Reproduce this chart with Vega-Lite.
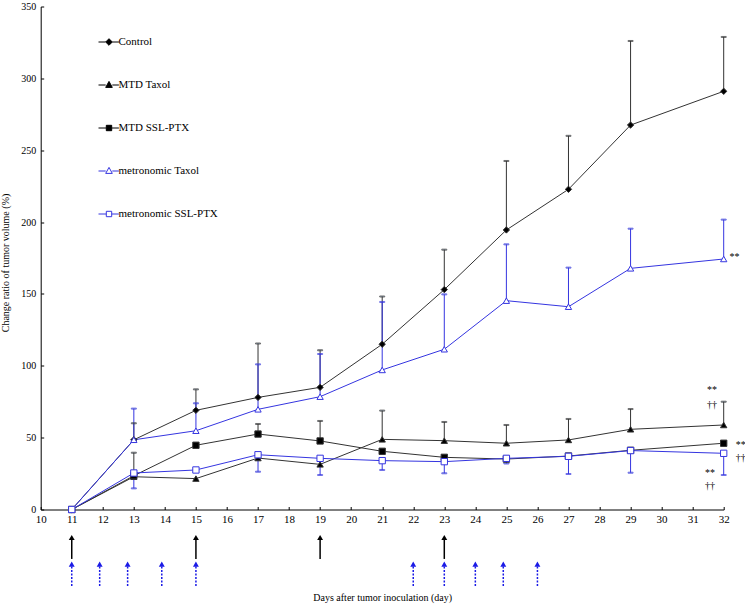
{
  "$schema": "https://vega.github.io/schema/vega-lite/v6.json",
  "autosize": {"type": "none"},
  "padding": {"left": 40.7, "top": 6.5, "right": 21.8, "bottom": 101.5},
  "width": 683,
  "height": 503,
  "background": "white",
  "config": {
    "view": {"stroke": null},
    "font": "Liberation Serif",
    "axis": {
      "grid": false,
      "domainColor": "black",
      "tickColor": "black",
      "labelColor": "black",
      "titleColor": "black",
      "labelFont": "Liberation Serif",
      "titleFont": "Liberation Serif",
      "labelFontSize": 10,
      "titleFontSize": 10,
      "titleFontWeight": "normal",
      "domainWidth": 1,
      "tickWidth": 1
    },
    "legend": {
      "labelFont": "Liberation Serif",
      "labelFontSize": 11,
      "labelColor": "black"
    }
  },
  "datasets": {
    "groups": [
      {"series": "Control", "day": 11, "value": 0, "lo": 0, "hi": 0},
      {"series": "Control", "day": 13, "value": 48.5, "lo": 48.5, "hi": 60},
      {"series": "Control", "day": 15, "value": 69, "lo": 69, "hi": 83.6},
      {"series": "Control", "day": 17, "value": 78, "lo": 78, "hi": 115.5},
      {"series": "Control", "day": 19, "value": 85, "lo": 85, "hi": 110.8},
      {"series": "Control", "day": 21, "value": 115, "lo": 115, "hi": 148.2},
      {"series": "Control", "day": 23, "value": 153, "lo": 153, "hi": 180.8},
      {"series": "Control", "day": 25, "value": 194.5, "lo": 194.5, "hi": 242.5},
      {"series": "Control", "day": 27, "value": 222.8, "lo": 222.8, "hi": 260},
      {"series": "Control", "day": 29, "value": 267.5, "lo": 267.5, "hi": 326},
      {"series": "Control", "day": 32, "value": 291, "lo": 291, "hi": 328.8},
      {"series": "MTD Taxol", "day": 11, "value": 0, "lo": 0, "hi": 0},
      {"series": "MTD Taxol", "day": 13, "value": 22.8, "lo": 22.8, "hi": 22.8},
      {"series": "MTD Taxol", "day": 15, "value": 21.5, "lo": 21.5, "hi": 21.5},
      {"series": "MTD Taxol", "day": 17, "value": 35.8, "lo": 35.8, "hi": 35.8},
      {"series": "MTD Taxol", "day": 19, "value": 31.4, "lo": 31.4, "hi": 31.4},
      {"series": "MTD Taxol", "day": 21, "value": 48.8, "lo": 48.8, "hi": 68.8},
      {"series": "MTD Taxol", "day": 23, "value": 47.9, "lo": 47.9, "hi": 60.9},
      {"series": "MTD Taxol", "day": 25, "value": 46.1, "lo": 46.1, "hi": 58.8},
      {"series": "MTD Taxol", "day": 27, "value": 48.4, "lo": 48.4, "hi": 63},
      {"series": "MTD Taxol", "day": 29, "value": 55.8, "lo": 55.8, "hi": 69.9},
      {"series": "MTD Taxol", "day": 32, "value": 58.8, "lo": 58.8, "hi": 75},
      {"series": "MTD SSL-PTX", "day": 11, "value": 0, "lo": 0, "hi": 0},
      {"series": "MTD SSL-PTX", "day": 13, "value": 23.5, "lo": 23.5, "hi": 39.5},
      {"series": "MTD SSL-PTX", "day": 15, "value": 44.7, "lo": 44.7, "hi": 44.7},
      {"series": "MTD SSL-PTX", "day": 17, "value": 52.5, "lo": 52.5, "hi": 59.5},
      {"series": "MTD SSL-PTX", "day": 19, "value": 47.7, "lo": 47.7, "hi": 61.6},
      {"series": "MTD SSL-PTX", "day": 21, "value": 40.5, "lo": 40.5, "hi": 40.5},
      {"series": "MTD SSL-PTX", "day": 23, "value": 36.3, "lo": 36.3, "hi": 36.3},
      {"series": "MTD SSL-PTX", "day": 25, "value": 35.1, "lo": 35.1, "hi": 35.1},
      {"series": "MTD SSL-PTX", "day": 27, "value": 37.2, "lo": 37.2, "hi": 37.2},
      {"series": "MTD SSL-PTX", "day": 29, "value": 41.2, "lo": 41.2, "hi": 41.2},
      {"series": "MTD SSL-PTX", "day": 32, "value": 46.1, "lo": 46.1, "hi": 46.1},
      {"series": "metronomic Taxol", "day": 11, "value": 0, "lo": 0, "hi": 0},
      {"series": "metronomic Taxol", "day": 13, "value": 48.5, "lo": 48.5, "hi": 70.2},
      {"series": "metronomic Taxol", "day": 15, "value": 54.8, "lo": 54.8, "hi": 73.9},
      {"series": "metronomic Taxol", "day": 17, "value": 69.7, "lo": 69.7, "hi": 101},
      {"series": "metronomic Taxol", "day": 19, "value": 78.5, "lo": 78.5, "hi": 108.2},
      {"series": "metronomic Taxol", "day": 21, "value": 97.1, "lo": 97.1, "hi": 144.4},
      {"series": "metronomic Taxol", "day": 23, "value": 111.5, "lo": 111.5, "hi": 149.7},
      {"series": "metronomic Taxol", "day": 25, "value": 145.3, "lo": 145.3, "hi": 184.5},
      {"series": "metronomic Taxol", "day": 27, "value": 141.1, "lo": 141.1, "hi": 168.3},
      {"series": "metronomic Taxol", "day": 29, "value": 167.8, "lo": 167.8, "hi": 195.4},
      {"series": "metronomic Taxol", "day": 32, "value": 174.3, "lo": 174.3, "hi": 201.7},
      {"series": "metronomic SSL-PTX", "day": 11, "value": 0, "lo": 0, "hi": 0},
      {"series": "metronomic SSL-PTX", "day": 13, "value": 25.4, "lo": 14.7, "hi": 25.4},
      {"series": "metronomic SSL-PTX", "day": 15, "value": 27.5, "lo": 27.5, "hi": 27.5},
      {"series": "metronomic SSL-PTX", "day": 17, "value": 38.1, "lo": 26.3, "hi": 38.1},
      {"series": "metronomic SSL-PTX", "day": 19, "value": 35.6, "lo": 24, "hi": 35.6},
      {"series": "metronomic SSL-PTX", "day": 21, "value": 34, "lo": 27.5, "hi": 34},
      {"series": "metronomic SSL-PTX", "day": 23, "value": 33.3, "lo": 25.2, "hi": 33.3},
      {"series": "metronomic SSL-PTX", "day": 25, "value": 35.6, "lo": 32, "hi": 35.6},
      {"series": "metronomic SSL-PTX", "day": 27, "value": 37, "lo": 24.7, "hi": 37},
      {"series": "metronomic SSL-PTX", "day": 29, "value": 41, "lo": 25.6, "hi": 41},
      {"series": "metronomic SSL-PTX", "day": 32, "value": 39.1, "lo": 24, "hi": 39.1}
    ],
    "doses": [
      {"day": 11, "regimen": "MTD"},
      {"day": 15, "regimen": "MTD"},
      {"day": 19, "regimen": "MTD"},
      {"day": 23, "regimen": "MTD"},
      {"day": 11, "regimen": "metronomic"},
      {"day": 11.9, "regimen": "metronomic"},
      {"day": 12.8, "regimen": "metronomic"},
      {"day": 13.9, "regimen": "metronomic"},
      {"day": 15, "regimen": "metronomic"},
      {"day": 22, "regimen": "metronomic"},
      {"day": 23, "regimen": "metronomic"},
      {"day": 24, "regimen": "metronomic"},
      {"day": 24.9, "regimen": "metronomic"},
      {"day": 26, "regimen": "metronomic"}
    ],
    "notes": [
      {"day": 32.35, "value": 176, "label": "**"},
      {"day": 31.62, "value": 83, "label": "**"},
      {"day": 31.62, "value": 73, "label": "††"},
      {"day": 32.55, "value": 45, "label": "**"},
      {"day": 32.55, "value": 36, "label": "††"},
      {"day": 31.56, "value": 25.5, "label": "**"},
      {"day": 31.56, "value": 16.5, "label": "††"}
    ]
  },
  "resolve": {"scale": {"shape": "independent", "fill": "independent", "color": "independent"}},
  "encoding": {
    "x": {
      "field": "day", "type": "quantitative",
      "title": "Days after tumor inoculation (day)",
      "scale": {"domain": [10, 32], "nice": false, "zero": false},
      "axis": {
        "title": "Days after tumor inoculation (day)",
        "values": [10,11,12,13,14,15,16,17,18,19,20,21,22,23,24,25,26,27,28,29,30,31,32],
        "format": "d",
        "tickSize": -3,
        "labelPadding": 7,
        "labelFontSize": 11,
        "labelFlush": false,
        "labelOverlap": false,
        "titleY": 87.5,
        "titleBaseline": "middle"
      }
    }
  },
  "layer": [
    {
      "data": {"name": "groups"},
      "mark": {"type": "line", "strokeWidth": 1},
      "encoding": {
        "y": {
          "field": "value", "type": "quantitative",
          "title": "Change ratio of tumor volume (%)",
          "scale": {"domain": [0, 350], "nice": false},
          "axis": {
            "title": "Change ratio of tumor volume (%)",
            "values": [0,50,100,150,200,250,300,350],
            "tickSize": -3,
            "labelPadding": 8,
            "labelFlush": false,
            "titleX": -35,
            "titleY": 256,
            "titleBaseline": "middle",
            "titleAngle": -90
          }
        },
        "stroke": {
          "field": "series", "type": "nominal",
          "scale": {
            "domain": ["Control", "MTD Taxol", "MTD SSL-PTX", "metronomic Taxol", "metronomic SSL-PTX"],
            "range": ["#333333", "#333333", "#333333", "#3535e0", "#3535e0"]
          },
          "legend": null
        },
        "detail": {"field": "series"}
      }
    },
    {
      "data": {"name": "groups"},
      "transform": [{"filter": "datum.hi > datum.lo"}],
      "mark": {"type": "rule", "strokeWidth": 1},
      "encoding": {
        "y": {"field": "lo", "type": "quantitative", "title": "Change ratio of tumor volume (%)"},
        "y2": {"field": "hi"},
        "stroke": {"field": "series", "type": "nominal", "legend": null}
      }
    },
    {
      "data": {"name": "groups"},
      "transform": [{"filter": "datum.hi > datum.value"}],
      "mark": {"type": "tick", "orient": "horizontal", "size": 5, "thickness": 1},
      "encoding": {
        "y": {"field": "hi", "type": "quantitative", "title": "Change ratio of tumor volume (%)"},
        "stroke": {"field": "series", "type": "nominal", "legend": null}
      }
    },
    {
      "data": {"name": "groups"},
      "transform": [{"filter": "datum.lo < datum.value"}],
      "mark": {"type": "tick", "orient": "horizontal", "size": 5, "thickness": 1},
      "encoding": {
        "y": {"field": "lo", "type": "quantitative", "title": "Change ratio of tumor volume (%)"},
        "stroke": {"field": "series", "type": "nominal", "legend": null}
      }
    },
    {
      "data": {"name": "groups"},
      "mark": {"type": "point", "size": 40, "strokeWidth": 1, "opacity": 1},
      "encoding": {
        "y": {"field": "value", "type": "quantitative", "title": "Change ratio of tumor volume (%)"},
        "shape": {
          "field": "series", "type": "nominal",
          "scale": {
            "domain": ["Control", "MTD Taxol", "MTD SSL-PTX", "metronomic Taxol", "metronomic SSL-PTX"],
            "range": ["diamond", "triangle-up", "square", "triangle-up", "square"]
          },
          "legend": null
        },
        "fill": {
          "field": "series", "type": "nominal",
          "scale": {
            "domain": ["Control", "MTD Taxol", "MTD SSL-PTX", "metronomic Taxol", "metronomic SSL-PTX"],
            "range": ["black", "black", "black", "white", "white"]
          },
          "legend": null
        },
        "stroke": {"field": "series", "type": "nominal", "legend": null}
      }
    },
    {
      "data": {"name": "groups"},
      "transform": [{"filter": "false"}],
      "mark": {"type": "point", "filled": false, "opacity": 1},
      "encoding": {
        "y": {"field": "value", "type": "quantitative", "title": "Change ratio of tumor volume (%)"},
        "color": {
          "field": "series", "type": "nominal", "title": null,
          "scale": {
            "domain": ["Control", "MTD Taxol", "MTD SSL-PTX", "metronomic Taxol", "metronomic SSL-PTX"],
            "range": ["black", "black", "black", "#3535e0", "#3535e0"]
          },
          "legend": {
            "orient": "none", "legendX": 62.8, "legendY": 30, "padding": 0, "rowPadding": 31,
            "symbolSize": 36, "symbolStrokeWidth": 1, "labelOffset": 4, "labelFontSize": 11, "title": null
          }
        },
        "fill": {
          "field": "series", "type": "nominal", "title": null,
          "scale": {
            "domain": ["Control", "MTD Taxol", "MTD SSL-PTX", "metronomic Taxol", "metronomic SSL-PTX"],
            "range": ["black", "black", "black", "white", "white"]
          },
          "legend": {
            "orient": "none", "legendX": 62.8, "legendY": 30, "padding": 0, "rowPadding": 31,
            "symbolSize": 36, "symbolStrokeWidth": 1, "labelOffset": 4, "labelFontSize": 11, "title": null
          }
        },
        "shape": {
          "field": "series", "type": "nominal", "title": null,
          "scale": {
            "domain": ["Control", "MTD Taxol", "MTD SSL-PTX", "metronomic Taxol", "metronomic SSL-PTX"],
            "range": [
              "M-3.5,0L-1.1,0M1.1,0L3.3,0M0,-1.1L1.1,0L0,1.1L-1.1,0Z",
              "M-3.5,0L-1.1,0M1.1,0L3.3,0M0,-1.2L1.1,0.8L-1.1,0.8Z",
              "M-3.5,0L-0.9,0M0.9,0L3.3,0M-0.9,-0.9L0.9,-0.9L0.9,0.9L-0.9,0.9Z",
              "M-3.5,0L-1.1,0M1.1,0L3.3,0M0,-1.2L1.1,0.8L-1.1,0.8Z",
              "M-3.5,0L-0.9,0M0.9,0L3.3,0M-0.9,-0.9L0.9,-0.9L0.9,0.9L-0.9,0.9Z"
            ]
          },
          "legend": {
            "orient": "none", "legendX": 62.8, "legendY": 30, "padding": 0, "rowPadding": 31,
            "symbolSize": 36, "symbolStrokeWidth": 1, "labelOffset": 4, "labelFontSize": 11, "title": null
          }
        }
      }
    },
    {
      "data": {"name": "doses"},
      "transform": [{"filter": "datum.regimen === 'MTD'"}],
      "mark": {"type": "rule", "strokeWidth": 1.5, "color": "black"},
      "encoding": {
        "y": {"datum": -34.4, "type": "quantitative", "title": "Change ratio of tumor volume (%)"},
        "y2": {"datum": -19.5}
      }
    },
    {
      "data": {"name": "doses"},
      "transform": [{"filter": "datum.regimen === 'MTD'"}],
      "mark": {"type": "point", "shape": "triangle-up", "filled": true, "size": 35, "color": "black", "opacity": 1},
      "encoding": {
        "y": {"datum": -19.5, "type": "quantitative", "title": "Change ratio of tumor volume (%)"}
      }
    },
    {
      "data": {"name": "doses"},
      "transform": [{"filter": "datum.regimen === 'metronomic'"}],
      "mark": {"type": "rule", "strokeWidth": 1.5, "color": "#1a1ae6", "strokeDash": [2, 1.5]},
      "encoding": {
        "y": {"datum": -53.2, "type": "quantitative", "title": "Change ratio of tumor volume (%)"},
        "y2": {"datum": -38}
      }
    },
    {
      "data": {"name": "doses"},
      "transform": [{"filter": "datum.regimen === 'metronomic'"}],
      "mark": {"type": "point", "shape": "triangle-up", "filled": true, "size": 35, "color": "#1a1ae6", "opacity": 1},
      "encoding": {
        "y": {"datum": -38, "type": "quantitative", "title": "Change ratio of tumor volume (%)"}
      }
    },
    {
      "data": {"name": "notes"},
      "mark": {"type": "text", "font": "Liberation Serif", "fontSize": 10, "color": "black", "align": "center", "baseline": "middle"},
      "encoding": {
        "y": {"field": "value", "type": "quantitative", "title": "Change ratio of tumor volume (%)"},
        "text": {"field": "label"}
      }
    }
  ]
}
